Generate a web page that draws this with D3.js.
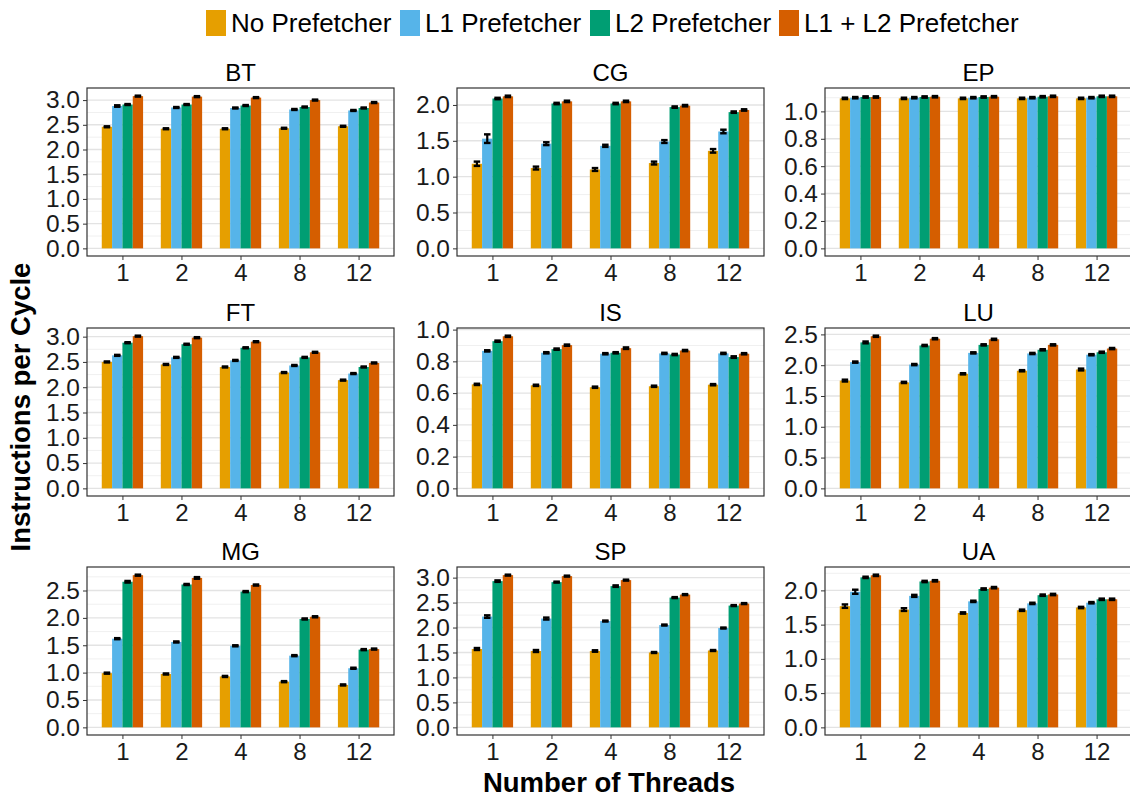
<!DOCTYPE html>
<html>
<head>
<meta charset="utf-8">
<script src="https://cdn.jsdelivr.net/npm/d3@7"></script>
<style>
  body { margin: 0; background: #fff; }
  text { font-family: "Liberation Sans", Arial, sans-serif; fill: #000; }
</style>
</head>
<body>
<div id="chart"></div>
<script>
var width = 1130;
var height = 798;

var benchmarks = ['BT', 'CG', 'EP', 'FT', 'IS', 'LU', 'MG', 'SP', 'UA'];
var threads = ['1', '2', '4', '8', '12'];
var series = ['No Prefetcher', 'L1 Prefetcher', 'L2 Prefetcher', 'L1 + L2 Prefetcher'];
var colors = ['#E69F00', '#56B4E9', '#009E73', '#D55E00'];
var yStep = [0.5, 0.5, 0.2, 0.5, 0.2, 0.5, 0.5, 0.5, 0.5];

// instructions per cycle, one row per thread count: [none, L1, L2, L1+L2]
var ipcBT = [[2.46, 2.88, 2.91, 3.08], [2.42, 2.85, 2.91, 3.07], [2.42, 2.84, 2.89, 3.05], [2.43, 2.81, 2.86, 3.00], [2.47, 2.79, 2.84, 2.95]];
var ipcCG = [[1.18, 1.53, 2.09, 2.12], [1.12, 1.46, 2.02, 2.05], [1.10, 1.43, 2.02, 2.05], [1.19, 1.49, 1.97, 1.99], [1.36, 1.63, 1.90, 1.93]];
var ipcEP = [[1.095, 1.10, 1.105, 1.105], [1.095, 1.10, 1.105, 1.107], [1.095, 1.10, 1.105, 1.107], [1.095, 1.10, 1.107, 1.11], [1.095, 1.10, 1.11, 1.11]];
var ipcFT = [[2.50, 2.63, 2.88, 3.01], [2.45, 2.59, 2.85, 2.98], [2.40, 2.53, 2.78, 2.90], [2.29, 2.43, 2.59, 2.69], [2.14, 2.27, 2.40, 2.48]];
var ipcIS = [[0.655, 0.866, 0.927, 0.958], [0.649, 0.854, 0.877, 0.902], [0.637, 0.848, 0.854, 0.883], [0.643, 0.850, 0.843, 0.868], [0.653, 0.850, 0.827, 0.848]];
var ipcLU = [[1.75, 2.05, 2.37, 2.47], [1.72, 2.01, 2.32, 2.43], [1.86, 2.20, 2.33, 2.42], [1.91, 2.19, 2.25, 2.33], [1.93, 2.17, 2.21, 2.27]];
var ipcMG = [[0.99, 1.62, 2.66, 2.78], [0.975, 1.56, 2.61, 2.73], [0.93, 1.49, 2.48, 2.60], [0.835, 1.31, 1.98, 2.02], [0.775, 1.08, 1.42, 1.43]];
var ipcSP = [[1.57, 2.22, 2.93, 3.05], [1.53, 2.18, 2.91, 3.03], [1.53, 2.13, 2.83, 2.95], [1.50, 2.05, 2.60, 2.66], [1.54, 1.99, 2.44, 2.48]];
var ipcUA = [[1.77, 1.98, 2.19, 2.22], [1.72, 1.92, 2.13, 2.14], [1.67, 1.84, 2.02, 2.04], [1.71, 1.81, 1.93, 1.94], [1.75, 1.82, 1.87, 1.87]];

// standard error, same layout
var errBT = [[0.01, 0.015, 0.01, 0.01], [0.01, 0.01, 0.01, 0.01], [0.01, 0.01, 0.01, 0.01], [0.01, 0.01, 0.01, 0.01], [0.01, 0.01, 0.01, 0.01]];
var errCG = [[0.03, 0.06, 0.01, 0.01], [0.02, 0.02, 0.01, 0.01], [0.02, 0.015, 0.01, 0.01], [0.02, 0.02, 0.01, 0.01], [0.025, 0.025, 0.01, 0.01]];
var errEP = [[0.005, 0.005, 0.005, 0.005], [0.005, 0.005, 0.005, 0.005], [0.005, 0.005, 0.005, 0.005], [0.005, 0.005, 0.005, 0.005], [0.005, 0.005, 0.005, 0.005]];
var errFT = [[0.01, 0.01, 0.01, 0.01], [0.01, 0.01, 0.01, 0.01], [0.01, 0.01, 0.01, 0.01], [0.01, 0.01, 0.01, 0.01], [0.01, 0.01, 0.01, 0.01]];
var errIS = [[0.004, 0.004, 0.004, 0.004], [0.004, 0.004, 0.004, 0.004], [0.004, 0.004, 0.004, 0.005], [0.004, 0.004, 0.004, 0.004], [0.004, 0.004, 0.005, 0.004]];
var errLU = [[0.015, 0.01, 0.015, 0.01], [0.01, 0.01, 0.01, 0.01], [0.01, 0.01, 0.01, 0.01], [0.01, 0.01, 0.01, 0.01], [0.015, 0.01, 0.01, 0.01]];
var errMG = [[0.01, 0.01, 0.015, 0.01], [0.01, 0.01, 0.01, 0.015], [0.01, 0.01, 0.01, 0.01], [0.01, 0.01, 0.01, 0.01], [0.01, 0.01, 0.01, 0.01]];
var errSP = [[0.02, 0.025, 0.015, 0.01], [0.02, 0.02, 0.01, 0.01], [0.015, 0.01, 0.015, 0.01], [0.01, 0.01, 0.01, 0.01], [0.01, 0.01, 0.01, 0.01]];
var errUA = [[0.025, 0.03, 0.01, 0.01], [0.02, 0.015, 0.01, 0.01], [0.01, 0.01, 0.01, 0.01], [0.01, 0.01, 0.01, 0.01], [0.01, 0.01, 0.01, 0.01]];

var ipc = [ipcBT, ipcCG, ipcEP, ipcFT, ipcIS, ipcLU, ipcMG, ipcSP, ipcUA];
var err = [errBT, errCG, errEP, errFT, errIS, errLU, errMG, errSP, errUA];

var panelLeft = [87, 457, 825];
var panelTop = [88, 328, 567];
var panelW = 307;
var panelH = 168;

var svg = d3.select('#chart')
    .append('svg')
    .attr('width', width)
    .attr('height', height);

svg.append('rect')
    .attr('width', width)
    .attr('height', height)
    .style('fill', 'white');

// legend
var legendX = [206, 400, 590, 779];
var legend = svg.append('g');
series.forEach(function (s, i) {
    legend.append('rect')
        .attr('x', legendX[i])
        .attr('y', 10)
        .attr('width', 20)
        .attr('height', 26)
        .style('fill', colors[i]);
    legend.append('text')
        .attr('x', legendX[i] + 25)
        .attr('y', 32)
        .style('font-size', '26px')
        .text(s);
});

benchmarks.forEach(function (name, p) {
    var col = p % 3;
    var row = Math.floor(p / 3);
    var g = svg.append('g')
        .attr('transform', 'translate(' + panelLeft[col] + ',' + panelTop[row] + ')');

    var rows = ipc[p];
    var errs = err[p];
    var maxVal = d3.max(rows, function (r, i) {
        return d3.max(r, function (v, j) { return v + errs[i][j]; });
    });

    var x = d3.scalePoint().domain(threads).range([0, panelW]).padding(0.6);
    var unit = x.step();
    var xs = d3.scaleBand().domain(series).range([-0.35 * unit, 0.35 * unit]);
    var y = d3.scaleLinear().domain([-0.05 * maxVal, 1.05 * maxVal]).range([panelH, 0]);

    var step = yStep[p];
    var major = d3.range(0, y.domain()[1] + 1e-9, step).map(function (v) { return +v.toFixed(3); });
    var minor = d3.range(step / 2, y.domain()[1], step);

    g.selectAll('.minor').data(minor).enter().append('line')
        .attr('x1', 0).attr('x2', panelW)
        .attr('y1', function (d) { return y(d); })
        .attr('y2', function (d) { return y(d); })
        .style('stroke', '#f0f0f0')
        .style('stroke-width', 1);
    g.selectAll('.major').data(major).enter().append('line')
        .attr('x1', 0).attr('x2', panelW)
        .attr('y1', function (d) { return y(d); })
        .attr('y2', function (d) { return y(d); })
        .style('stroke', '#e3e3e3')
        .style('stroke-width', 1.4);

    var cells = [];
    threads.forEach(function (t, i) {
        series.forEach(function (s, j) {
            cells.push({ t: t, s: s, j: j, v: rows[i][j], e: errs[i][j] });
        });
    });

    g.selectAll('.bar').data(cells).enter().append('rect')
        .attr('x', function (d) { return x(d.t) + xs(d.s); })
        .attr('y', function (d) { return y(d.v); })
        .attr('width', xs.bandwidth())
        .attr('height', function (d) { return y(0) - y(d.v); })
        .style('fill', function (d) { return colors[d.j]; });

    var capW = unit * 0.055;
    var eb = g.selectAll('.err').data(cells).enter().append('g')
        .attr('transform', function (d) { return 'translate(' + (x(d.t) + xs(d.s) + xs.bandwidth() / 2) + ',0)'; });
    eb.append('line')
        .attr('x1', 0).attr('x2', 0)
        .attr('y1', function (d) { return y(d.v - d.e); })
        .attr('y2', function (d) { return y(d.v + d.e); })
        .style('stroke', 'black').style('stroke-width', 2.2);
    eb.append('line')
        .attr('x1', -capW).attr('x2', capW)
        .attr('y1', function (d) { return y(d.v - d.e); })
        .attr('y2', function (d) { return y(d.v - d.e); })
        .style('stroke', 'black').style('stroke-width', 2.4);
    eb.append('line')
        .attr('x1', -capW).attr('x2', capW)
        .attr('y1', function (d) { return y(d.v + d.e); })
        .attr('y2', function (d) { return y(d.v + d.e); })
        .style('stroke', 'black').style('stroke-width', 2.4);

    g.append('rect')
        .attr('width', panelW)
        .attr('height', panelH)
        .style('fill', 'none')
        .style('stroke', '#333')
        .style('stroke-width', 1.2);

    var yAxis = g.append('g')
        .call(d3.axisLeft(y).tickValues(major).tickSize(4).tickPadding(3)
            .tickFormat(d3.format('.1f')));
    yAxis.select('.domain').remove();
    yAxis.selectAll('line').style('stroke', '#333');
    yAxis.selectAll('text').style('font-size', '24.5px').style('fill', '#1a1a1a');

    var xAxis = g.append('g')
        .attr('transform', 'translate(0,' + panelH + ')')
        .call(d3.axisBottom(x).tickSize(4).tickPadding(4));
    xAxis.select('.domain').remove();
    xAxis.selectAll('line').style('stroke', '#333');
    xAxis.selectAll('text').style('font-size', '24px').style('fill', '#1a1a1a');

    g.append('text')
        .attr('x', panelW / 2)
        .attr('y', -7)
        .attr('text-anchor', 'middle')
        .style('font-size', '24px')
        .text(name);
});

svg.append('text')
    .attr('x', 609)
    .attr('y', 792)
    .attr('text-anchor', 'middle')
    .style('font-size', '27.5px')
    .style('font-weight', 'bold')
    .text('Number of Threads');

svg.append('text')
    .attr('transform', 'translate(30,407) rotate(-90)')
    .attr('text-anchor', 'middle')
    .style('font-size', '27.5px')
    .style('font-weight', 'bold')
    .text('Instructions per Cycle');
</script>
</body>
</html>
